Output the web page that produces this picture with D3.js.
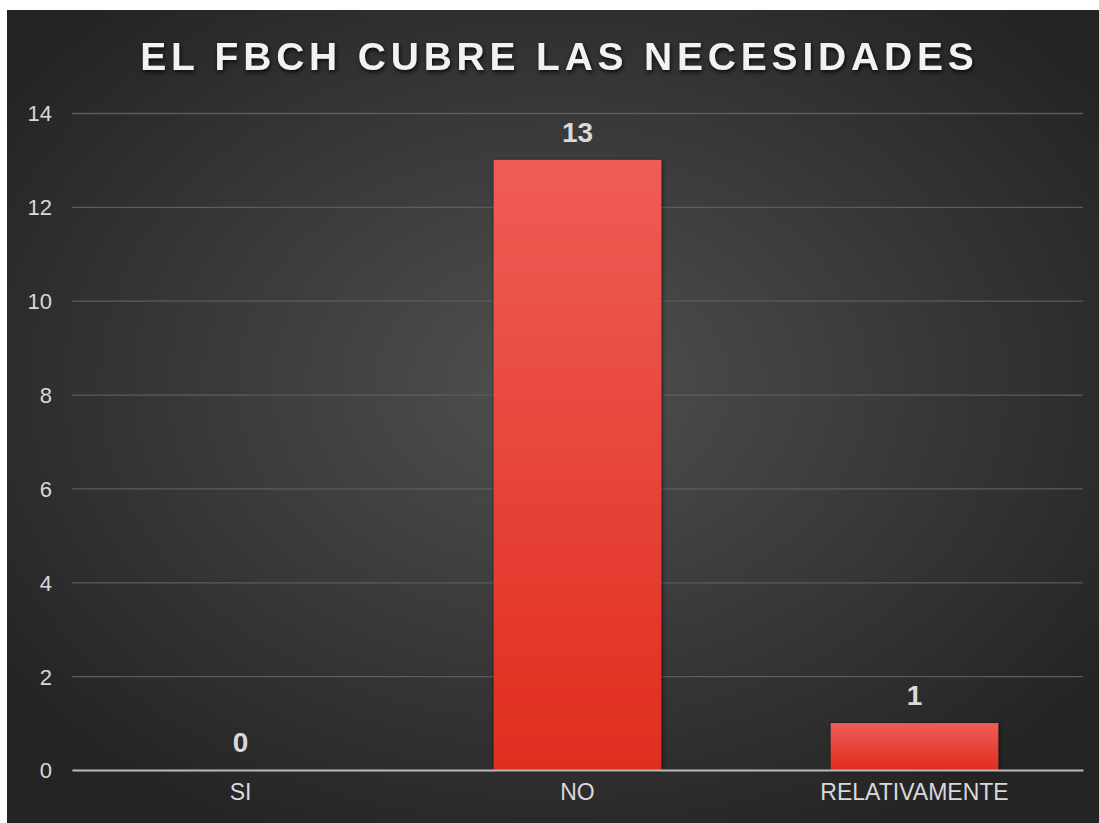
<!DOCTYPE html>
<html>
<head>
<meta charset="utf-8">
<script src="https://cdnjs.cloudflare.com/ajax/libs/d3/7.8.5/d3.min.js"></script>
<style>
	body{margin:0;background:#fff;}
	text{font-family:"Liberation Sans", Arial, sans-serif;}
</style>
</head>
<body>
<div id="c-svg"></div>
<script>

//data
const categories = ["SI", "NO", "RELATIVAMENTE"];
const values = [0, 13, 1];
const yTicks = [0, 2, 4, 6, 8, 10, 12, 14];
const title = "EL FBCH CUBRE LAS NECESIDADES";

function graph(){

	//sizing
	let width = 1099;
	let height = 823;
	let panel = {left:7, top:10};
	let margin = {top:113, right:16, bottom:53, left:72};

	//initiate svg
	let svg = d3.select("#c-svg")
		.append("svg")
		.attr("width", width)
		.attr("height", height)
		.style("display", "block");

	let defs = svg.append("defs");

	//background gradient
	let bg = defs.append("radialGradient")
		.attr("id", "bg")
		.attr("cx", "50%")
		.attr("cy", "46%")
		.attr("r", "62%");
	bg.append("stop").attr("offset", "0%").attr("stop-color", "#505050");
	bg.append("stop").attr("offset", "100%").attr("stop-color", "#242424");

	//bar gradient
	let barGrad = defs.append("linearGradient")
		.attr("id", "bar")
		.attr("x1", 0).attr("y1", 0)
		.attr("x2", 0).attr("y2", 1);
	barGrad.append("stop").attr("offset", "0%").attr("stop-color", "#ef5d56");
	barGrad.append("stop").attr("offset", "100%").attr("stop-color", "#e02d1f");

	//shadow
	let shadow = defs.append("filter")
		.attr("id", "shadow")
		.attr("x", "-20%").attr("y", "-20%")
		.attr("width", "140%").attr("height", "140%");
	shadow.append("feDropShadow")
		.attr("dx", 1).attr("dy", 1)
		.attr("stdDeviation", 2)
		.attr("flood-color", "#000")
		.attr("flood-opacity", 0.6);

	svg.append("rect")
		.attr("x", panel.left)
		.attr("y", panel.top)
		.attr("width", width - panel.left)
		.attr("height", height - panel.top)
		.attr("fill", "url(#bg)");

	//scales
	const xScale = d3.scaleBand()
		.domain(categories)
		.range([margin.left, width - margin.right])
		.paddingInner(0.503)
		.paddingOuter(0.2515);

	const yScale = d3.scaleLinear()
		.domain([0, 14])
		.range([height - margin.bottom, margin.top]);

	//gridlines
	const yAxis = d3.axisLeft(yScale)
		.tickValues(yTicks)
		.tickSize(-(width - margin.right - margin.left))
		.tickPadding(20)
		.tickSizeOuter(0);

	let gy = svg.append("g")
		.attr("class", "axis y_axis")
		.attr("transform", `translate(${margin.left},0)`)
		.call(yAxis);

	gy.select(".domain").remove();
	gy.selectAll("line")
		.attr("stroke", "#5c5c5c")
		.attr("stroke-width", 1.3);
	gy.selectAll("text")
		.attr("fill", "#d9d9d9")
		.attr("font-size", 22)
		.attr("dy", "0.36em");

	//bars
	svg.selectAll(".bar")
		.data(values)
		.enter()
		.append("rect")
		.attr("class", "bar")
		.attr("x", (d, i)=>{return xScale(categories[i]);})
		.attr("y", (d)=>{return yScale(d);})
		.attr("width", xScale.bandwidth())
		.attr("height", (d)=>{return yScale(0) - yScale(d);})
		.attr("fill", "url(#bar)")
		.attr("filter", "url(#shadow)");

	//x axis
	const xAxis = d3.axisBottom(xScale)
		.tickSize(0)
		.tickPadding(22)
		.tickSizeOuter(0);

	let gx = svg.append("g")
		.attr("class", "axis x_axis")
		.attr("transform", `translate(0,${yScale(0)})`)
		.call(xAxis);

	gx.select(".domain")
		.attr("stroke", "#b5b5b5")
		.attr("stroke-width", 2);
	gx.selectAll("text")
		.attr("fill", "#d9d9d9")
		.attr("font-size", 23)
		.attr("dy", "0.36em");

	//value labels
	svg.selectAll(".val")
		.data(values)
		.enter()
		.append("text")
		.attr("class", "val")
		.attr("x", (d, i)=>{return xScale(categories[i]) + xScale.bandwidth() / 2;})
		.attr("y", (d)=>{return yScale(d) - 18;})
		.attr("text-anchor", "middle")
		.attr("fill", "#d9d9d9")
		.attr("font-size", 28)
		.attr("font-weight", "bold")
		.text((d)=>{return d;});

	//title
	svg.append("text")
		.attr("x", 557 + 2.4)
		.attr("y", 70)
		.attr("text-anchor", "middle")
		.attr("fill", "#f2f2f2")
		.attr("font-size", 39)
		.attr("font-weight", "bold")
		.style("letter-spacing", "4.8px")
		.style("filter", "drop-shadow(1px 2px 2px rgba(0,0,0,0.8))")
		.text(title);

}

graph();
</script>
</body>
</html>
